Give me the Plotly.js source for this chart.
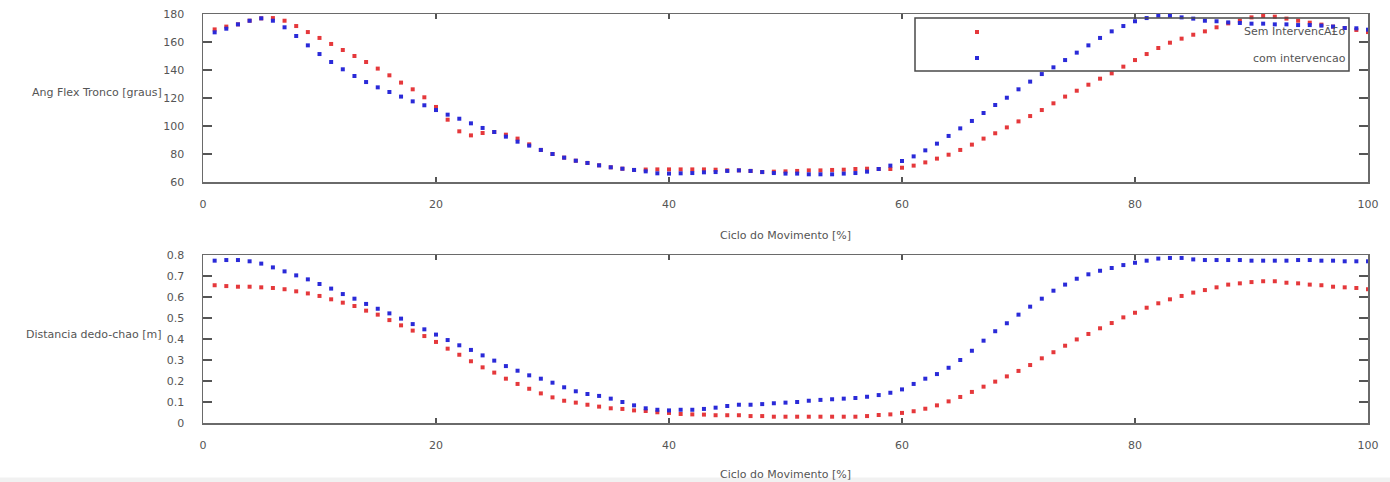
<!DOCTYPE html>
<html>
<head>
<meta charset="utf-8">
<script src="https://cdn.plot.ly/plotly-3.0.1.min.js"></script>
<style>html,body{margin:0;padding:0;background:#fff;}#chart{width:1390px;height:482px;}</style>
</head>
<body>
<div id="chart"></div>
<script>
const cycle = [1,2,3,4,5,6,7,8,9,10,11,12,13,14,15,16,17,18,19,20,21,22,23,24,25,26,27,28,29,30,31,32,33,34,35,36,37,38,39,40,41,42,43,44,45,46,47,48,49,50,51,52,53,54,55,56,57,58,59,60,61,62,63,64,65,66,67,68,69,70,71,72,73,74,75,76,77,78,79,80,81,82,83,84,85,86,87,88,89,90,91,92,93,94,95,96,97,98,99,100];

const angSem = [169.0,171.0,172.6,175.2,176.9,177.1,175.2,171.4,167.1,162.9,158.6,154.3,150.0,145.7,141.0,136.2,131.0,126.2,120.5,113.6,104.5,96.2,93.3,95.0,95.7,93.8,91.0,86.9,82.9,80.0,77.4,75.2,73.6,71.9,70.5,69.5,68.6,68.9,69.0,69.0,69.0,69.0,69.0,68.8,68.3,68.3,67.9,67.1,67.4,67.6,67.9,68.3,68.3,68.6,68.8,69.3,69.5,69.3,69.3,70.2,71.7,74.0,76.7,79.5,82.9,86.7,91.0,94.8,99.0,103.3,107.1,111.4,116.2,121.0,125.2,129.5,133.8,137.6,142.4,147.1,151.4,155.7,159.5,162.4,165.2,167.6,170.5,173.3,175.2,177.6,178.6,178.1,176.7,175.2,173.8,172.4,171.0,170.0,168.6,167.1];

const angCom = [166.9,169.5,172.6,175.2,176.9,175.2,170.5,164.3,157.6,151.4,145.7,140.5,135.7,131.4,127.6,124.3,121.0,117.6,114.8,111.4,108.1,105.2,101.9,98.6,95.7,92.4,88.8,86.0,82.9,80.0,77.4,75.2,73.6,71.9,70.5,69.5,68.6,67.6,66.2,66.0,66.2,66.4,66.9,67.1,67.9,68.3,67.9,67.1,66.4,66.0,66.0,65.5,65.5,65.5,66.0,66.4,67.4,69.3,71.7,75.0,78.3,82.6,87.4,92.9,98.3,103.6,109.3,115.0,120.2,126.2,131.7,137.1,141.9,147.1,152.4,157.6,162.9,167.6,171.4,174.8,177.1,178.8,178.8,177.6,176.7,175.2,174.8,174.0,173.6,173.1,173.1,172.6,172.6,172.1,172.1,171.7,171.0,170.0,169.8,168.8];

const distSem = [0.656,0.652,0.649,0.649,0.646,0.643,0.637,0.627,0.617,0.605,0.589,0.573,0.557,0.535,0.516,0.490,0.465,0.440,0.414,0.386,0.354,0.325,0.294,0.265,0.240,0.211,0.186,0.163,0.141,0.122,0.106,0.097,0.087,0.078,0.070,0.067,0.060,0.057,0.051,0.048,0.043,0.041,0.040,0.037,0.037,0.037,0.033,0.033,0.030,0.030,0.030,0.030,0.030,0.030,0.030,0.030,0.033,0.038,0.041,0.048,0.056,0.068,0.084,0.103,0.124,0.148,0.173,0.197,0.222,0.248,0.276,0.308,0.337,0.368,0.398,0.424,0.451,0.476,0.503,0.525,0.549,0.570,0.589,0.605,0.621,0.633,0.646,0.659,0.665,0.671,0.675,0.675,0.668,0.665,0.659,0.656,0.649,0.646,0.643,0.637];

const distCom = [0.773,0.776,0.776,0.770,0.759,0.741,0.722,0.703,0.684,0.662,0.640,0.614,0.592,0.567,0.544,0.522,0.497,0.471,0.446,0.421,0.395,0.370,0.348,0.322,0.297,0.271,0.249,0.227,0.211,0.192,0.170,0.151,0.138,0.129,0.116,0.100,0.084,0.070,0.063,0.060,0.063,0.063,0.067,0.073,0.081,0.087,0.087,0.090,0.094,0.097,0.100,0.106,0.110,0.113,0.116,0.119,0.125,0.133,0.144,0.160,0.186,0.211,0.233,0.263,0.300,0.344,0.392,0.437,0.475,0.516,0.554,0.592,0.630,0.659,0.687,0.708,0.725,0.738,0.752,0.763,0.773,0.783,0.786,0.786,0.779,0.776,0.776,0.776,0.776,0.773,0.773,0.773,0.773,0.776,0.776,0.773,0.773,0.770,0.770,0.770];

const seriesNames = ["Sem IntervencÃ£o", "com intervencao"];
const xTitle = "Ciclo do Movimento [%]";
const yTitleTop = "Ang Flex Tronco [graus]";
const yTitleBottom = "Distancia dedo-chao [m]";

const RED = "#e5383b";
const BLUE = "#2a2ad8";
const FONT = "DejaVu Sans";
const FS = 11;
const TXT = "#555555";

function pts(x, y, color, xa, ya, name) {
  return {x: x, y: y, xaxis: xa, yaxis: ya, name: name, type: "scatter", mode: "markers",
    cliponaxis: false, showlegend: false,
    marker: {symbol: "square", size: 4, color: color, line: {width: 0}}};
}

const traces = [
  pts(cycle, angSem, RED, "x", "y", seriesNames[0]),
  pts(cycle, angCom, BLUE, "x", "y", seriesNames[1]),
  pts(cycle, distSem, RED, "x2", "y2", seriesNames[0]),
  pts(cycle, distCom, BLUE, "x2", "y2", seriesNames[1])
];

const tickfont = {family: FONT, size: FS, color: TXT};
function xax(anchor) {
  return {anchor: anchor, range: [0, 100], tick0: 0, dtick: 20, showline: true, mirror: "ticks",
    linecolor: "#6a6a6a", linewidth: 1.5, ticks: "inside", ticklen: 5, tickwidth: 1.3, tickcolor: "#555",
    showgrid: false, zeroline: false, tickfont: tickfont, ticklabelstandoff: 11};
}
function yax(anchor, domain, range, dtick) {
  return {anchor: anchor, domain: domain, range: range, dtick: dtick, showline: true, mirror: "ticks",
    linecolor: "#6a6a6a", linewidth: 1.5, ticks: "inside", ticklen: 9, tickwidth: 1.3, tickcolor: "#555",
    showgrid: false, zeroline: false, tickfont: tickfont, ticklabelstandoff: 15};
}

const L = 203, R = 1368, T = 14, B = 423, W = 1390, H = 482;
const px = X => (X - L) / (R - L);
const py = Y => (B - Y) / (B - T);

const annFont = {family: FONT, size: FS, color: TXT};
const annotations = [
  {xref: "paper", yref: "paper", x: 0.5, y: py(235), text: xTitle, showarrow: false, font: annFont, xanchor: "center", yanchor: "middle"},
  {xref: "paper", yref: "paper", x: 0.5, y: py(474), text: xTitle, showarrow: false, font: annFont, xanchor: "center", yanchor: "middle"},
  {xref: "paper", yref: "paper", x: px(164), y: py(93), text: yTitleTop, showarrow: false, font: annFont, xanchor: "right", yanchor: "middle"},
  {xref: "paper", yref: "paper", x: px(164), y: py(334), text: yTitleBottom, showarrow: false, font: annFont, xanchor: "right", yanchor: "middle"},
  {xref: "paper", yref: "paper", x: px(1348), y: py(32), text: seriesNames[0], showarrow: false, font: annFont, xanchor: "right", yanchor: "middle"},
  {xref: "paper", yref: "paper", x: px(1348), y: py(58), text: seriesNames[1], showarrow: false, font: annFont, xanchor: "right", yanchor: "middle"}
];

const shapes = [
  {type: "rect", xref: "paper", yref: "paper", x0: px(915), x1: px(1349), y0: py(71), y1: py(18),
    line: {color: "#4a4a4a", width: 1.5}, fillcolor: "rgba(0,0,0,0)", layer: "above"},
  {type: "rect", xref: "paper", yref: "paper", xsizemode: "pixel", ysizemode: "pixel",
    xanchor: px(977), yanchor: py(32), x0: -2, x1: 2, y0: -2, y1: 2, fillcolor: RED, line: {width: 0}},
  {type: "rect", xref: "paper", yref: "paper", xsizemode: "pixel", ysizemode: "pixel",
    xanchor: px(977), yanchor: py(58), x0: -2, x1: 2, y0: -2, y1: 2, fillcolor: BLUE, line: {width: 0}},
  {type: "rect", xref: "paper", yref: "paper", x0: px(0), x1: px(W), y0: py(H), y1: py(477.5),
    fillcolor: "#f1f1f1", line: {width: 0}, layer: "above"}
];

const layout = {
  width: W, height: H,
  margin: {l: L, r: W - R, t: T, b: H - B, pad: 0},
  paper_bgcolor: "#ffffff", plot_bgcolor: "#ffffff",
  showlegend: false,
  font: {family: FONT, size: FS, color: TXT},
  xaxis: xax("y"),
  yaxis: yax("x", [py(182), 1], [60, 180], 20),
  xaxis2: xax("y2"),
  yaxis2: yax("x2", [0, py(255)], [0, 0.8], 0.1),
  annotations: annotations,
  shapes: shapes
};

Plotly.newPlot("chart", traces, layout, {staticPlot: true, displayModeBar: false});
</script>
</body>
</html>
